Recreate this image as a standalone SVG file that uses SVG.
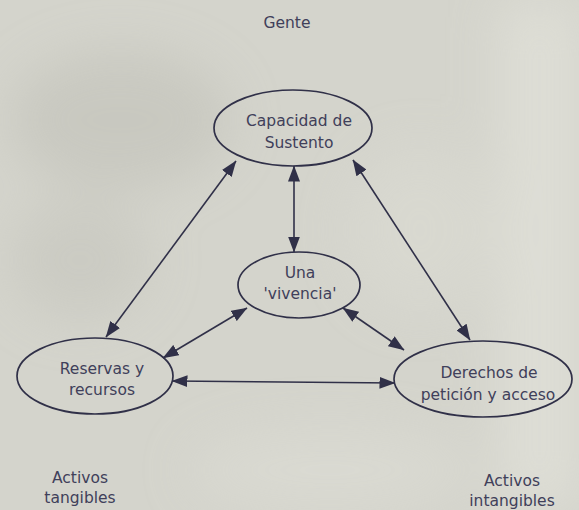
<svg xmlns="http://www.w3.org/2000/svg" width="579" height="510" viewBox="0 0 579 510">
<style>
.node ellipse{fill:none;stroke:#303048;stroke-width:1.7}
text{font-family:"DejaVu Sans",Verdana,"Liberation Sans",sans-serif;font-size:15.5px;fill:#40405a;text-anchor:middle}
.conn line{stroke:#303048;stroke-width:1.6;marker-start:url(#ah);marker-end:url(#ah)}
</style>
<defs>
<marker id="ah" viewBox="0 0 16 12" refX="15.5" refY="6" markerWidth="16" markerHeight="12" markerUnits="userSpaceOnUse" orient="auto-start-reverse">
<path d="M0,0 L16,6 L0,12 z" fill="#303048"/>
</marker>
<filter id="blur" x="-20%" y="-20%" width="140%" height="140%"><feGaussianBlur stdDeviation="25"/></filter>
</defs>
<g id="background">
<rect width="579" height="510" fill="#d4d4cc"/>
<g filter="url(#blur)" opacity="0.7">
<rect x="500" y="0" width="79" height="510" fill="#e2e2da"/>
<ellipse cx="120" cy="120" rx="110" ry="70" fill="#c4c4bc"/>
<ellipse cx="80" cy="260" rx="70" ry="60" fill="#c8c8c0"/>
<ellipse cx="330" cy="470" rx="140" ry="40" fill="#dcdcd4"/>
<ellipse cx="420" cy="230" rx="70" ry="80" fill="#dadad2"/>
</g>
</g>
<g id="label-gente"><text x="287" y="28">Gente</text></g>
<g id="node-capacidad" class="node">
<ellipse cx="293" cy="128" rx="79" ry="38"/>
<text x="299" y="126">Capacidad de</text>
<text x="299" y="148">Sustento</text>
</g>
<g id="node-vivencia" class="node">
<ellipse cx="299" cy="285" rx="61" ry="33"/>
<text x="300" y="278">Una</text>
<text x="300" y="299">'vivencia'</text>
</g>
<g id="node-reservas" class="node">
<ellipse cx="95" cy="376" rx="78" ry="38"/>
<text x="102" y="374">Reservas y</text>
<text x="102" y="395">recursos</text>
</g>
<g id="node-derechos" class="node">
<ellipse cx="483" cy="379" rx="89" ry="38"/>
<text x="489" y="378">Derechos de</text>
<text x="488" y="400">petición y acceso</text>
</g>
<g id="label-tangibles"><text x="80" y="483">Activos</text><text x="80" y="503">tangibles</text></g>
<g id="label-intangibles"><text x="512" y="486">Activos</text><text x="512" y="506">intangibles</text></g>
<g id="connectors" class="conn">
<line x1="236" y1="161" x2="106" y2="337"/>
<line x1="294" y1="166" x2="294" y2="252"/>
<line x1="353" y1="160" x2="470" y2="340"/>
<line x1="247" y1="308" x2="163" y2="358"/>
<line x1="343" y1="308" x2="404" y2="350"/>
<line x1="172" y1="381" x2="395" y2="383"/>
</g>
</svg>
